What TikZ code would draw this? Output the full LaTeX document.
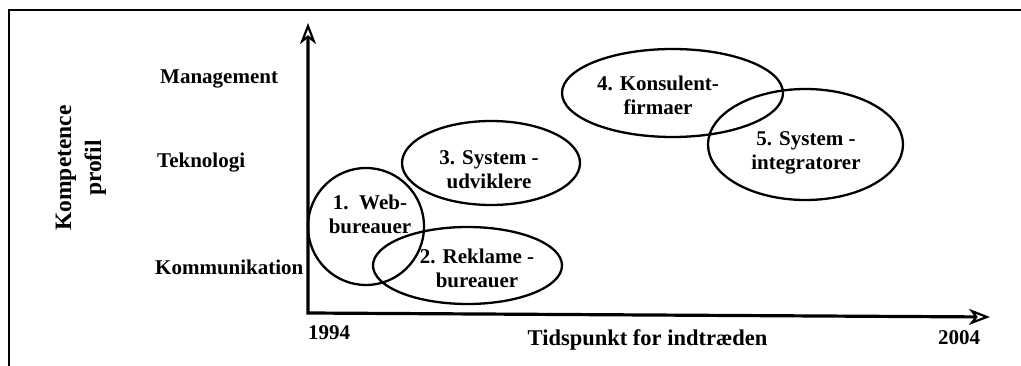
\documentclass[tikz,border=0pt]{standalone}
\usepackage{fontspec}
\setmainfont{Liberation Serif}
\usetikzlibrary{arrows.meta,shapes.geometric}
\begin{document}
\begin{tikzpicture}[x=1pt,y=-1pt,
  lbl/.style={font=\fontsize{21}{24}\selectfont\bfseries, inner sep=0pt},
  eltext/.style={font=\fontsize{21}{24}\selectfont\bfseries, align=center, inner sep=0pt},
  ell/.style={draw, ellipse, line width=2.3pt, inner sep=0pt},
  arr/.tip={Stealth[open,length=21pt,width=16pt,inset=6pt,line width=2.2pt]},
  axisline/.style={line width=3.2pt, line join=miter, arr-arr},
]
\useasboundingbox (0,0) rectangle (1021,366);
\draw[line width=2.8pt] (9,366) -- (9,10) -- (1021,10);

% axes
\coordinate (o) at (308,313);
\coordinate (ytip) at (308,23);
\coordinate (xtip) at (990,317);
\draw[axisline] (ytip) -- (o) -- (xtip);

% axis labels
\node[lbl, anchor=west] (man) at (160,79) {Management};
\node[lbl, anchor=west] (tek) at (157,163) {Teknologi};
\node[lbl, anchor=west] (kom) at (155,267) {Kommunikation};
\node[font=\fontsize{23.5}{30}\selectfont\bfseries, align=center, inner sep=0pt, rotate=90] (kp) at (81,168) {Kompetence\\profil};
\node[lbl] (y1994) at (329,333) {1994};
\node[lbl] (y2004) at (959,338) {2004};
\node[font=\fontsize{22.5}{26}\selectfont\bfseries, inner sep=0pt] (tid) at (647.5,340) {Tidspunkt for indtræden};

% ellipses
\node[ell, minimum width=116pt, minimum height=117pt] (e1) at (366,226.5) {};
\node[ell, minimum width=189pt, minimum height=77pt] (e2) at (467.5,265.5) {};
\node[ell, minimum width=178pt, minimum height=84pt] (e3) at (491,163) {};
\node[ell, minimum width=221pt, minimum height=88pt] (e4) at (672.5,93) {};
\node[ell, minimum width=195pt, minimum height=111pt] (e5) at (805.5,144.5) {};

% ellipse texts
\node[eltext] (t1) at (370,214) {1.\ \ Web-\\bureauer};
\node[eltext] (t2) at (477,268.5) {2. Reklame -\\bureauer};
\node[eltext] (t3) at (489,169.5) {3. System -\\udviklere};
\node[eltext] (t4) at (658,95) {4. Konsulent-\\firmaer};
\node[eltext] (t5) at (806,152.5) {5. System -\\integratorer};
\end{tikzpicture}
\end{document}
